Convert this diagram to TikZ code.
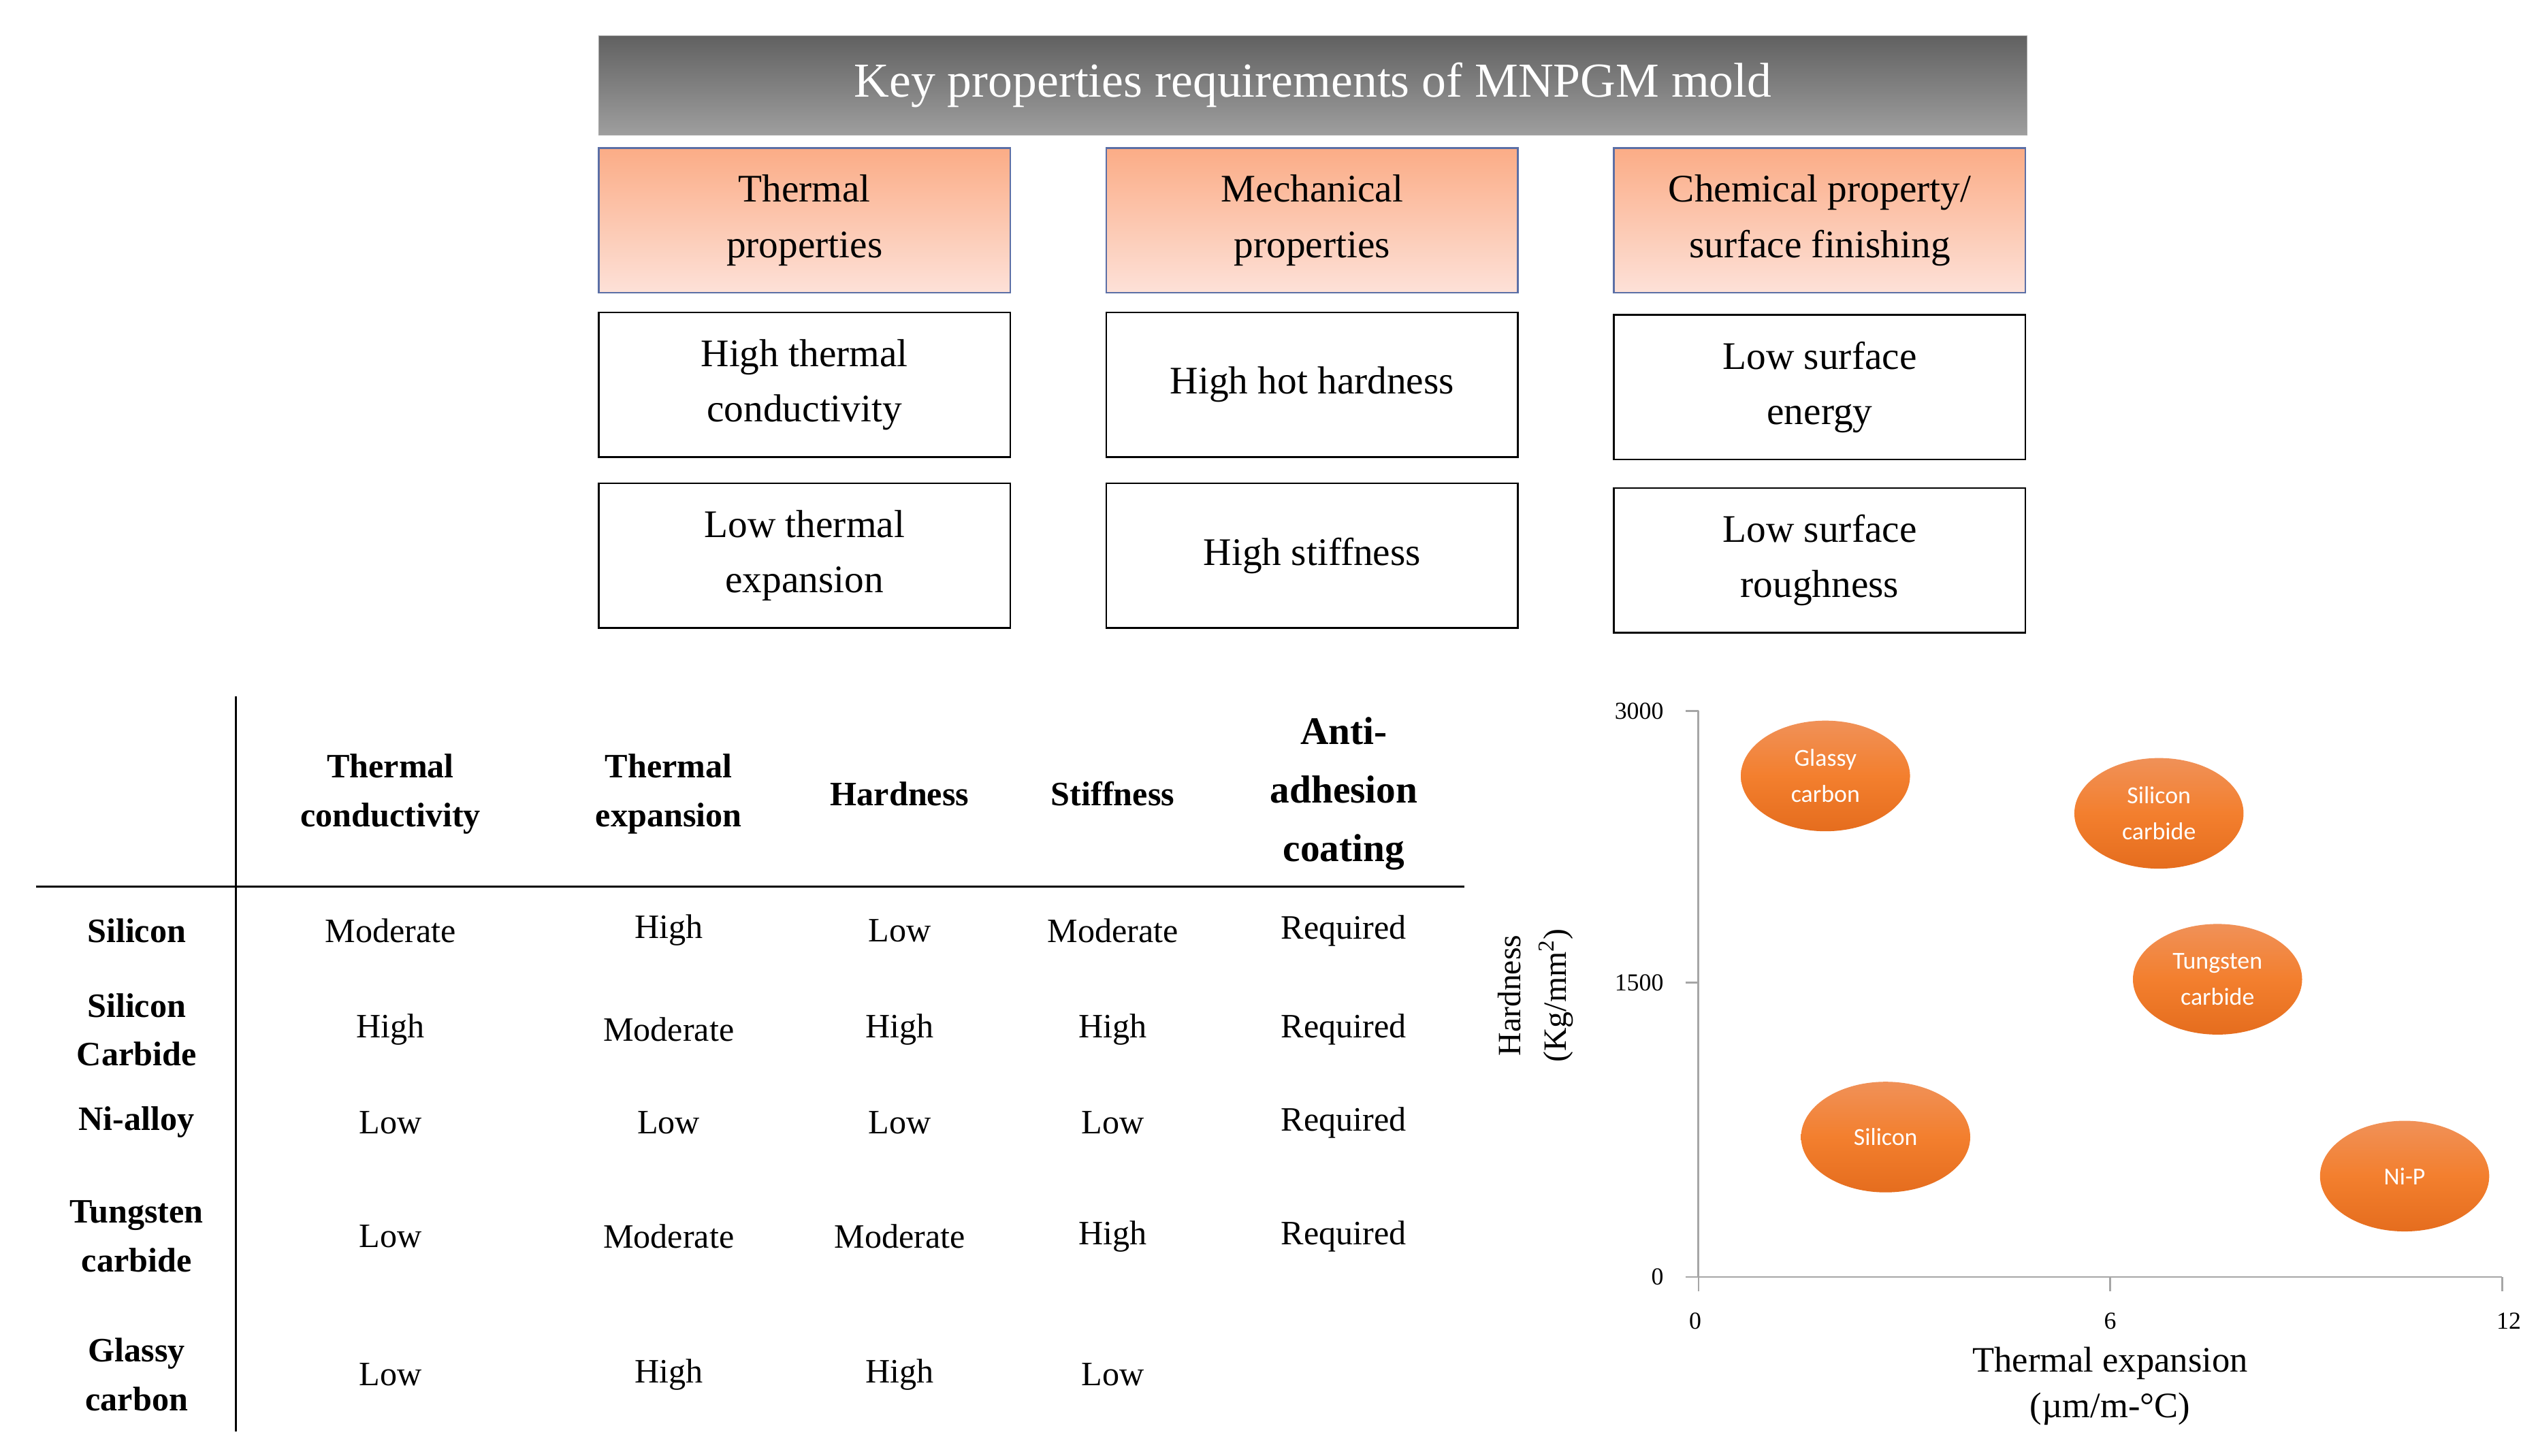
\documentclass[tikz,border=0pt]{standalone}
\usepackage{fontspec}
\setmainfont{Liberation Serif}
\newfontfamily\carl{Carlito}
\usetikzlibrary{shapes.geometric}
\definecolor{hdtop}{HTML}{FBAC86}
\definecolor{hdbot}{HTML}{FDE1D8}
\definecolor{hdline}{HTML}{5B6FA6}
\definecolor{ortop}{HTML}{F09158}
\definecolor{ormid}{HTML}{F37F2E}
\definecolor{orbot}{HTML}{E56D1E}
\begin{document}
\begin{tikzpicture}[x=1pt,y=-1pt,
  title/.style={draw=gray!70,top color=black!62,bottom color=black!38,text=white,minimum width=878pt,minimum height=61pt,font=\fontsize{30}{34}\selectfont,inner sep=0pt},
  hd/.style={draw=hdline,line width=1pt,top color=hdtop,bottom color=hdbot,minimum width=253pt,minimum height=89pt,align=center,font=\fontsize{24}{34}\selectfont,inner sep=0pt},
  bx/.style={draw=black,line width=1pt,fill=white,minimum width=253pt,minimum height=89pt,align=center,font=\fontsize{24}{34}\selectfont,inner sep=0pt},
  th/.style={font=\fontsize{21}{30}\selectfont\bfseries,align=center},
  td/.style={font=\fontsize{21}{30}\selectfont,align=center},
  el/.style={ellipse,minimum width=104pt,minimum height=68pt,top color=ortop,bottom color=orbot,middle color=ormid,text=white,font=\carl\fontsize{15}{22}\selectfont,align=center,inner sep=0pt},
  tk/.style={font=\fontsize{15}{18}\selectfont}]
\useasboundingbox (0,0) rectangle (1560,895);
% top block
\node[title] (T) at (807,52.5) {Key properties requirements of MNPGM mold};
\node[hd] (h1) at (494.5,135.5) {Thermal\\properties};
\node[hd] (h2) at (806.5,135.5) {Mechanical\\properties};
\node[hd] (h3) at (1118.5,135.5) {Chemical property/\\surface finishing};
\node[bx] (a1) at (494.5,236.5) {High thermal\\conductivity};
\node[bx] (a2) at (806.5,236.5) {High hot hardness};
\node[bx] (a3) at (1118.5,238) {Low surface\\energy};
\node[bx] (b1) at (494.5,341.5) {Low thermal\\expansion};
\node[bx] (b2) at (806.5,341.5) {High stiffness};
\node[bx] (b3) at (1118.5,344.5) {Low surface\\roughness};
% table
\coordinate (vt) at (145,428); \coordinate (vb) at (145,880);
\coordinate (hl) at (22,545); \coordinate (hr) at (900,545);
\draw[line width=1.2pt] (vt) -- (vb);
\draw[line width=1.2pt] (hl) -- (hr);
\node[th] (c1) at (240,488) {Thermal\\conductivity};
\node[th] (c2) at (411,488) {Thermal\\expansion};
\node[th] (c3) at (553,488) {Hardness};
\node[th] (c4) at (684,488) {Stiffness};
\node[th,font=\fontsize{24}{36}\selectfont\bfseries] (c5) at (826,488) {Anti-\\adhesion\\coating};
\foreach \n/\y/\lab/\a/\b/\c/\d/\e in {
 1/572/Silicon/Moderate/High/Low/Moderate/Required,
 2/633/{Silicon\\Carbide}/High/Moderate/High/High/Required,
 3/690/Ni-alloy/Low/Low/Low/Low/Required,
 4/760/{Tungsten\\carbide}/Low/Moderate/Moderate/High/Required,
 5/845/{Glassy\\carbon}/Low/High/High/Low/{}}{
 \node[th] (r\n) at (84,\y) {\lab};
 \node[td] (r\n a) at (240,\y) {\a};
 \node[td] (r\n b) at (411,\y) {\b};
 \node[td] (r\n c) at (553,\y) {\c};
 \node[td] (r\n d) at (684,\y) {\d};
 \node[td] (r\n e) at (826,\y) {\e};
}
% chart
\coordinate (o) at (1044,785); \coordinate (yt) at (1044,437);
\coordinate (xe) at (1538,785);
\draw[gray!70,line width=1.2pt] (yt) -- (o) -- (xe);
\draw[gray!70,line width=1pt] (1036,437) -- (1044,437) (1036,604) -- (1044,604) (1036,785) -- (1044,785)
  (1044,785) -- (1044,794) (1297,785) -- (1297,794) (1538,785) -- (1538,794);
\node[tk,anchor=east] (y3) at (1026,437) {3000};
\node[tk,anchor=east] (y2) at (1026,604) {1500};
\node[tk,anchor=east] (y0) at (1026,785) {0};
\node[tk] (x0) at (1042,812) {0};
\node[tk] (x6) at (1297,812) {6};
\node[tk] (x12) at (1542,812) {12};
\node[td,font=\fontsize{22}{28}\selectfont] (xl) at (1297,852) {Thermal expansion\\(µm/m-°C)};
\node[td,font=\fontsize{20}{28}\selectfont,rotate=90] (yl) at (944,612) {Hardness\\(Kg/mm\textsuperscript{2})};
\node[el] (e1) at (1122,477) {Glassy\\carbon};
\node[el] (e2) at (1327,500) {Silicon\\carbide};
\node[el] (e3) at (1363,602) {Tungsten\\carbide};
\node[el] (e4) at (1159,699) {Silicon};
\node[el] (e5) at (1478,723) {Ni-P};
\end{tikzpicture}
\end{document}
